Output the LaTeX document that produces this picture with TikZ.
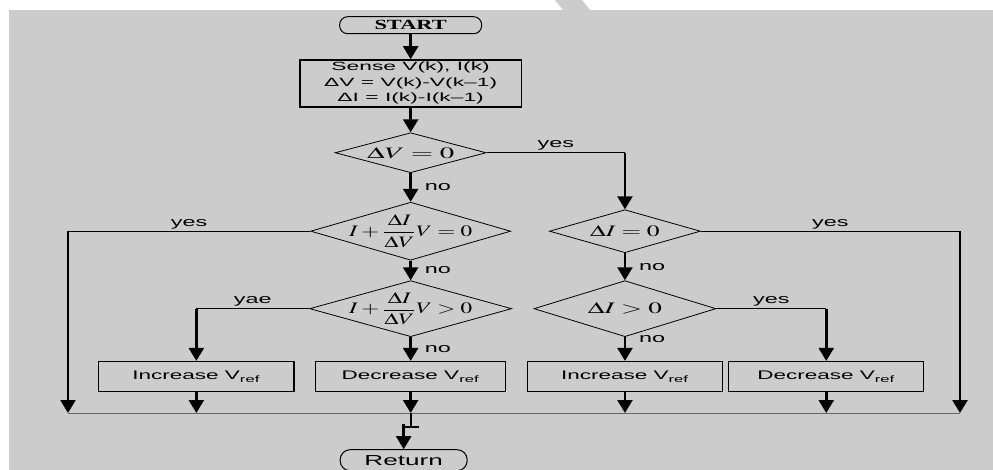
\documentclass[tikz,border=0pt]{standalone}
\usepackage{graphicx}
\usepackage{mathptmx}
\usepackage[no-math]{fontspec}
\setmainfont{Liberation Sans}
\newfontfamily\termfont{Liberation Serif}
\usetikzlibrary{matrix, arrows.meta, shapes.geometric}

\definecolor{bggray}{RGB}{204,204,204}
\newcommand{\wide}[2][1.8]{\scalebox{#1}[1]{#2}}
\newcommand{\mth}[2][1.8]{\wide[#1]{$\displaystyle #2$}}

\tikzset{
  term/.style = {draw, line width=1pt, rounded corners=8pt, inner sep=0pt,
    minimum width=142pt, minimum height=17pt, font=\termfont\bfseries\fontsize{14}{16}\selectfont},
  proc/.style = {draw, line width=1.3pt, inner sep=0pt, minimum width=195pt,
    minimum height=30pt, font=\fontsize{12.5}{15}\selectfont},
  test/.style = {diamond, draw, line width=0.8pt, inner sep=0pt},
  mathlbl/.style = {inner sep=0pt, font=\fontsize{16}{19}\selectfont},
  flow/.style = {line width=2.5pt, -{Triangle[width=15pt,length=13pt]}},
  link/.style = {line width=0.9pt},
  lbl/.style = {inner sep=2pt, font=\fontsize{13}{15}\selectfont},
  nolbl/.style = {lbl, right, xshift=11pt}
}

\begin{document}
\begin{tikzpicture}[x=1pt, y=-1pt]
\useasboundingbox (0,0) rectangle (993,470);
\fill[bggray] (9,10) rectangle (993,470);
\fill[bggray] (555,0) -- (582,0) -- (590,10) -- (563,10) -- cycle;
\matrix (m) [anchor=north west, nodes={anchor=center}, column sep=5pt, row sep=25pt, inner sep=0pt] at (98,16) {
 & \node[term](start){\wide[1.6]{START}}; & & \\
 & \node[proc, align=center, minimum width=221pt, minimum height=47pt, font=\fontsize{12}{15.5}\selectfont](sense){\wide[1.9]{Sense V(k), I(k)}\\ \wide[1.9]{ΔV = V(k)-V(k–1)}\\ \wide[1.9]{ΔI = I(k)-I(k–1)}}; & & \\
 & \node[test, minimum width=151pt, minimum height=40pt, label={[mathlbl]center:\mth{\Delta V=0}}](dv){}; & & \\[4pt]
 & \node[test, minimum width=200pt, minimum height=58pt, label={[mathlbl]center:\mth[1.45]{I+\frac{\Delta I}{\Delta V}V=0}}](d2){}; &
   \node[test, minimum width=151pt, minimum height=43pt, label={[mathlbl]center:\mth[1.6]{\Delta I=0}}](di0){}; & \\[-5pt]
 & \node[test, minimum width=202pt, minimum height=56pt, label={[mathlbl]center:\mth[1.45]{I+\frac{\Delta I}{\Delta V}V>0}}](d3){}; &
   \node[test, minimum width=182pt, minimum height=56pt, label={[mathlbl]center:\mth[1.7]{\Delta I>0}}](di1){}; & \\[-1pt]
 \node[proc](inc1){\wide{Increase V\textsubscript{ref}}}; & \node[proc, minimum width=190pt](dec1){\wide{Decrease V\textsubscript{ref}}}; &
   \node[proc](inc2){\wide{Increase V\textsubscript{ref}}}; &[13.5pt] \node[proc](dec2){\wide{Decrease V\textsubscript{ref}}}; \\[32pt]
 & \node[term, xshift=-7pt, minimum width=127pt, minimum height=21pt, rounded corners=10pt,
   font=\fontsize{14.5}{16}\selectfont](ret){\wide{Return}}; & & \\
};
\coordinate (busL) at (68,413);
\coordinate (busR) at (960,413);
\draw[line width=0.8pt, black!60] (busL) -- (busR);

\draw[flow] (start) -- (sense);
\draw[flow] (sense) -- (dv);
\draw[flow] (dv) -- node[nolbl]{\wide{no}} (d2);
\draw[flow] (d2) -- node[nolbl]{\wide{no}} (d3);
\draw[flow] (d3) -- node[nolbl]{\wide{no}} (dec1);
\draw[flow] (di0) -- node[nolbl]{\wide{no}} (di1);
\draw[flow] (di1) -- node[nolbl, pos=.1]{\wide{no}} (inc2);

\draw[link] (dv.east) -- node[lbl, above]{\wide{yes}} (di0.north |- dv.east);
\draw[flow] (di0.north |- dv.east) -- (di0);
\draw[link] (d2.west) -- node[lbl, above]{\wide{yes}} (busL |- d2.west);
\draw[flow] (busL |- d2.west) -- (busL);
\draw[link] (di0.east) -- node[lbl, above]{\wide{yes}} (busR |- di0.east);
\draw[flow] (busR |- di0.east) -- (busR);
\draw[link] (d3.west) -- node[lbl, above]{\wide{yae}} (inc1.north |- d3.west);
\draw[flow] (inc1.north |- d3.west) -- (inc1);
\draw[link] (di1.east) -- node[lbl, above]{\wide{yes}} (dec2.north |- di1.east);
\draw[flow] (dec2.north |- di1.east) -- (dec2);

\foreach \b in {inc1, dec1, inc2, dec2}
  \draw[flow] (\b) -- (\b |- busL);

\draw[line width=2pt] (dec1 |- busL) -- ++(0,14) coordinate (tick);
\draw[line width=1.2pt] ([xshift=-8pt]tick) -- ([xshift=8pt]tick);
\draw[flow] ([yshift=3pt]ret.north |- tick) -- (ret.north);
\end{tikzpicture}
\end{document}
